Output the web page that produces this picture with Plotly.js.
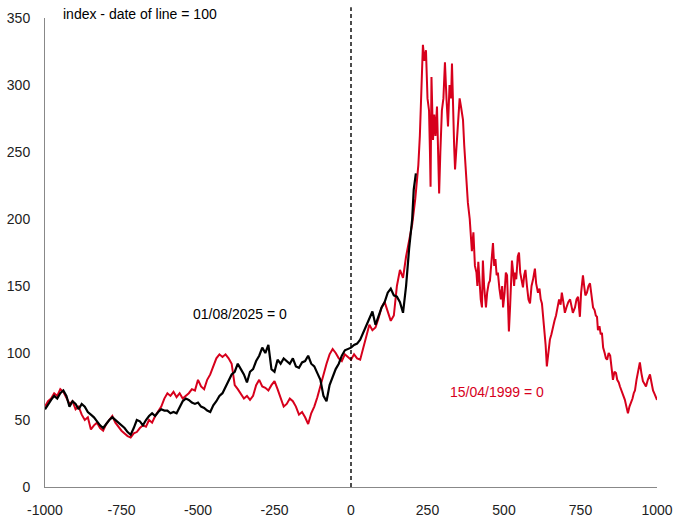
<!DOCTYPE html>
<html>
<head>
<meta charset="utf-8">
<script src="https://cdn.plot.ly/plotly-3.0.1.min.js"></script>
<style>
  html, body { margin: 0; padding: 0; background: #fff; }
  #plot { width: 678px; height: 523px; }
</style>
</head>
<body>
<div id="plot"></div>
<script>
// days relative to the reference date, index = 100 on that date

// red series: 15/04/1999 = 0
var redX = [
  -1000,-990,-980,-970,-960,-950,-940,-930,-920,-910,
  -900,-890,-880,-870,-860,-850,-840,-830,-820,-810,
  -800,-790,-780,-770,-760,-750,-740,-730,-720,-710,
  -700,-690,-680,-670,-660,-650,-640,-630,-620,-610,
  -600,-590,-580,-570,-560,-550,-540,-530,-520,-510,
  -500,-490,-480,-470,-460,-450,-440,-430,-420,-410,
  -400,-390,-380,-370,-360,-350,-340,-330,-320,-310,
  -300,-290,-280,-270,-260,-250,-240,-230,-220,-210,
  -200,-190,-180,-170,-160,-150,-140,-130,-120,-110,
  -100,-90,-80,-70,-60,-50,-40,-30,-20,-10,
  0,10,20,30,40,50,60,70,80,90,
  100,110,120,130,140,150,160,170,180,190,
  200,210,
  220,225,230,235,240,245,250,255,258,260,
  263,266,268,272,276,281,285,288,292,297,
  302,307,312,317,322,327,330,333,337,340,
  345,350,355,360,366,370,373,378,382,388,
  395,
  400,405,410,413,416,420,424,428,431,435,
  441,445,450,454,459,464,468,472,476,480,
  485,490,494,497,502,506,510,513,516,520,
  523,526,530,533,536,540,545,549,553,557,
  562,566,570,575,580,585,590,595,601,605,
  611,616,620,624,628,632,636,640,645,650,
  655,
  660,665,670,676,680,685,689,694,699,704,
  710,716,720,725,732,737,742,745,748,752,
  758,762,766,771,776,781,786,791,796,800,
  804,807,812,816,820,824,829,833,837,842,
  847,851,856,861,866,870,875,879,884,890,
  895,900,905,910,915,920,924,928,933,938,
  944,949,954,959,964,970,977,982,987,993,
  1000
];
var redY = [
  60,64,66,70,68,73,71,66,62,64,
  58,60,54,50,52,43,46,48,44,42,
  47,50,53,48,45,42,40,38,37,40,
  41,44,46,45,50,48,53,57,60,66,
  70,68,71,67,70,66,68,70,73,72,
  80,75,73,80,84,90,96,99,97,99,
  96,92,76,73,69,66,68,65,68,76,
  80,75,74,72,76,79,73,66,60,62,
  66,64,60,54,56,52,47,55,60,67,
  76,84,92,99,103,100,96,94,99,97,
  95,99,96,95,104,112,121,117,119,126,
  134,138,130,124,128,150,162,156,172,184,
  196,215,
  240,262,296,330,318,326,290,281,250,224,
  306,270,259,278,262,284,250,219,250,281,
  290,317,290,269,300,290,316,276,255,237,
  258,279,290,283,274,255,242,225,212,200,
  176,
  190,165,160,150,168,150,140,134,169,150,
  134,145,152,154,170,182,165,170,158,160,
  148,140,150,134,145,160,158,140,116,135,
  150,169,160,150,160,155,172,175,160,155,
  149,158,162,150,140,137,150,155,163,152,
  145,148,140,137,128,120,106,90,100,110,
  114,
  120,124,128,134,140,136,145,138,130,134,
  138,140,136,130,134,140,142,135,127,145,
  158,150,143,145,150,152,142,134,132,128,
  127,117,120,114,115,104,100,96,95,100,
  98,90,80,86,85,80,78,75,72,67,
  65,60,55,60,63,66,70,72,80,86,
  93,85,79,77,75,80,84,78,72,69,
  65
];

// black series: 01/08/2025 = 0
var blackX = [
  -1000,-990,-980,-970,-960,-950,-940,-930,-920,-910,
  -900,-890,-880,-870,-860,-850,-840,-830,-820,-810,
  -800,-790,-780,-770,-760,-750,-740,-730,-720,-710,
  -700,-690,-680,-670,-660,-650,-640,-630,-620,-610,
  -600,-590,-580,-570,-560,-550,-540,-530,-520,-510,
  -500,-490,-480,-470,-460,-450,-440,-430,-420,-410,
  -400,-390,-380,-370,-360,-350,-340,-330,-320,-310,
  -300,-290,-280,-270,-260,-250,-240,-230,-220,-210,
  -200,-190,-180,-170,-160,-150,-140,-130,-120,-110,
  -100,-90,-80,-70,-60,-50,-40,-30,-20,-10,
  0,10,20,30,40,50,60,70,80,90,
  100,110,120,130,140,150,160,170,180,190,
  200,205,212
];
var blackY = [
  58,62,65,68,66,70,72,68,60,64,
  62,58,62,60,56,54,52,49,46,44,
  47,50,52,50,48,46,44,41,39,44,
  50,49,46,50,53,55,53,56,58,57,
  57,55,56,55,60,64,66,65,63,62,
  63,60,59,57,56,61,64,68,70,75,
  80,84,86,92,88,84,78,86,88,94,
  98,104,100,106,88,86,95,92,96,94,
  92,96,90,89,93,94,98,92,90,85,
  80,68,64,76,82,88,92,98,102,103,
  104,106,107,110,115,120,126,131,121,128,
  134,138,145,148,143,142,138,130,150,178,
  200,222,234
];

var tickVals = [-1000, -750, -500, -250, 0, 250, 500, 750, 1000];

var red = '#d7001c';

var traces = [
  {x: redX, y: redY, type: 'scatter', mode: 'lines', name: '15/04/1999 = 0',
   line: {color: red, width: 2}},
  {x: blackX, y: blackY, type: 'scatter', mode: 'lines', name: '01/08/2025 = 0',
   line: {color: '#000000', width: 2.2}}
];

var layout = {
  width: 678,
  height: 523,
  margin: {l: 45, r: 21, t: 18, b: 36},
  paper_bgcolor: '#ffffff',
  plot_bgcolor: '#ffffff',
  showlegend: false,
  font: {family: 'Liberation Sans, Arial, sans-serif', size: 14, color: '#222222'},
  xaxis: {
    range: [-1000, 1000],
    tickvals: tickVals,
    ticktext: tickVals.map(String),
    showgrid: false,
    zeroline: false,
    showline: true,
    linecolor: '#888888',
    linewidth: 1,
    ticks: '',
    ticklabelstandoff: 10
  },
  yaxis: {
    range: [0, 350],
    dtick: 50,
    showgrid: false,
    zeroline: false,
    showline: true,
    linecolor: '#888888',
    linewidth: 1,
    ticks: '',
    ticklabelstandoff: 11
  },
  shapes: [
    {type: 'line', xref: 'x', yref: 'paper', x0: 0, x1: 0, y0: 0, y1: 1.023,
     line: {color: '#000000', width: 1.4, dash: '4px,3px'}}
  ],
  annotations: [
    {xref: 'paper', yref: 'paper', x: 0.026, y: 1.009, xanchor: 'left', yanchor: 'middle',
     text: 'index - date of line = 100', showarrow: false,
     font: {size: 14, color: '#000000'}},
    {xref: 'x', yref: 'y', x: -363, y: 129, xanchor: 'center', yanchor: 'middle',
     text: '01/08/2025 = 0', showarrow: false,
     font: {size: 14, color: '#000000'}},
    {xref: 'x', yref: 'y', x: 477, y: 71, xanchor: 'center', yanchor: 'middle',
     text: '15/04/1999 = 0', showarrow: false,
     font: {size: 14, color: red}}
  ]
};

Plotly.newPlot('plot', traces, layout, {displayModeBar: false, staticPlot: true});
</script>
</body>
</html>
